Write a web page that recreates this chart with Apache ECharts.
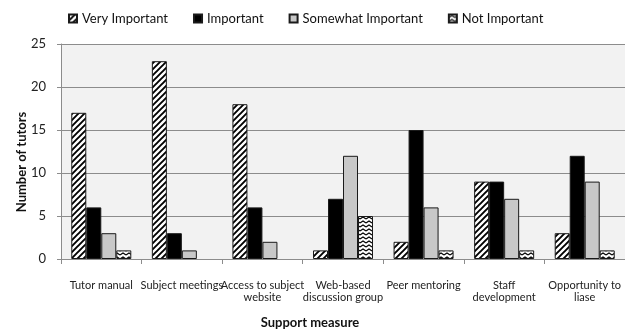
<!DOCTYPE html>
<html>
<head>
<meta charset="utf-8">
<script src="https://cdn.jsdelivr.net/npm/echarts@6/dist/echarts.min.js"></script>
<style>
  html, body { margin: 0; padding: 0; background: #fff; }
  #chart { width: 625px; height: 333px; }
</style>
</head>
<body>
<div id="chart"></div>
<script>
// Survey of tutors: importance of each support measure
var categories = [
  'Tutor manual',
  'Subject meetings',
  'Access to subject\nwebsite',
  'Web-based\ndiscussion group',
  'Peer mentoring',
  'Staff\ndevelopment',
  'Opportunity to\nliase'
];
var veryImportant     = [17, 23, 18, 1, 2, 9, 3];
var important         = [6, 3, 6, 7, 15, 9, 12];
var somewhatImportant = [3, 1, 2, 12, 6, 7, 9];
var notImportant      = [1, 0, 0, 5, 1, 1, 1];
var yTicks = { min: 0, max: 25, step: 5 };

var FONT = 'Lato, "Open Sans", sans-serif';

// Diagonal hatch fill
function hatchPattern() {
  var c = document.createElement('canvas');
  c.width = 6; c.height = 6;
  var g = c.getContext('2d');
  g.fillStyle = '#fff'; g.fillRect(0, 0, 6, 6);
  g.strokeStyle = '#000'; g.lineWidth = 1.9;
  g.beginPath();
  g.moveTo(-1, 7); g.lineTo(7, -1);
  g.moveTo(-1, 1); g.lineTo(1, -1);
  g.moveTo(5, 7); g.lineTo(7, 5);
  g.stroke();
  return c;
}
// Wavy zigzag fill
function wavePattern() {
  var c = document.createElement('canvas');
  c.width = 6; c.height = 4;
  var g = c.getContext('2d');
  g.fillStyle = '#fff'; g.fillRect(0, 0, 6, 4);
  g.strokeStyle = '#000'; g.lineWidth = 1.1;
  g.beginPath();
  g.moveTo(0, 3); g.lineTo(3, 1); g.lineTo(6, 3);
  g.stroke();
  return c;
}

function toBars(arr) {
  return arr.map(function (v) { return v === 0 ? '-' : v; });
}

var hatch = { image: hatchPattern(), repetition: 'repeat' };
var wave = { image: wavePattern(), repetition: 'repeat' };

function series(name, data, fill) {
  return {
    name: name,
    type: 'bar',
    data: toBars(data),
    barWidth: 15,
    barGap: '0%',
    itemStyle: { color: fill, borderColor: '#1a1a1a', borderWidth: 1 },
    emphasis: { disabled: true }
  };
}

var chart = echarts.init(document.getElementById('chart'), null, { renderer: 'canvas' });
chart.setOption({
  animation: false,
  textStyle: { fontFamily: FONT },
  legend: {
    top: 12,
    left: 68,
    padding: 0,
    itemWidth: 8,
    itemHeight: 8,
    itemGap: 25,
    icon: 'rect',
    textStyle: { fontFamily: FONT, fontSize: 13, color: '#111' },
    data: ['Very Important', 'Important', 'Somewhat Important', 'Not Important']
  },
  grid: {
    left: 61, right: -2, top: 44, bottom: 74,
    show: true, backgroundColor: '#f2f2f2', borderWidth: 0
  },
  xAxis: {
    type: 'category',
    data: categories,
    axisLine: { lineStyle: { color: '#8c8c8c', width: 1 } },
    axisTick: { show: true, length: 5, interval: 0, lineStyle: { color: '#8c8c8c' } },
    axisLabel: { interval: 0, fontSize: 11, color: '#222', margin: 20, lineHeight: 12.5, fontFamily: FONT }
  },
  yAxis: {
    type: 'value',
    min: yTicks.min, max: yTicks.max, interval: yTicks.step,
    axisLine: { show: true, lineStyle: { color: '#8c8c8c' } },
    axisTick: { show: true, length: 4, lineStyle: { color: '#8c8c8c' } },
    splitLine: { lineStyle: { color: '#8c8c8c', width: 1 } },
    axisLabel: { fontSize: 13, color: '#222', margin: 15, fontFamily: FONT }
  },
  graphic: [
    {
      type: 'text',
      rotation: Math.PI / 2,
      x: 22, y: 162,
      style: { text: 'Number of tutors', fontFamily: FONT, fontSize: 13, fontWeight: 'bold',
               fill: '#111', textAlign: 'center', textVerticalAlign: 'middle' }
    },
    {
      type: 'text', x: 310, y: 323,
      style: { text: 'Support measure', fontFamily: FONT, fontSize: 13, fontWeight: 'bold',
               fill: '#111', textAlign: 'center', textVerticalAlign: 'middle' }
    }
  ],
  series: [
    series('Very Important', veryImportant, hatch),
    series('Important', important, '#000'),
    series('Somewhat Important', somewhatImportant, '#c8c8c8'),
    series('Not Important', notImportant, wave)
  ]
});
</script>
</body>
</html>
